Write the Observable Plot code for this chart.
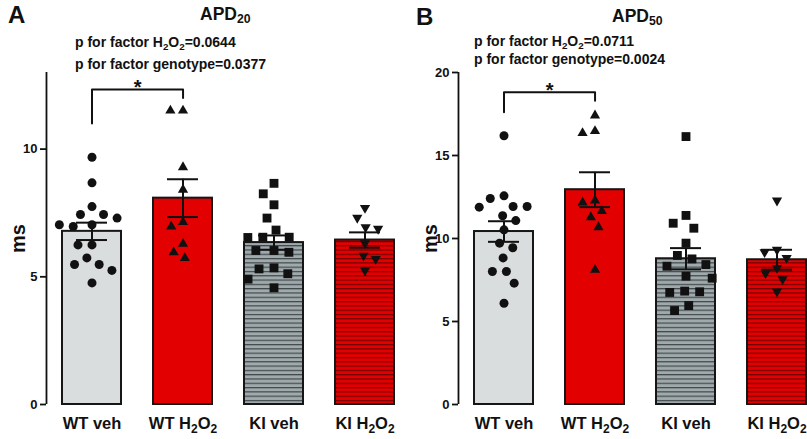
<!DOCTYPE html>
<html>
<head>
<meta charset="utf-8">
<script src="https://cdn.jsdelivr.net/npm/d3@7"></script>
<script src="https://cdn.jsdelivr.net/npm/@observablehq/plot@0.6"></script>
<style>
  html, body { margin: 0; padding: 0; background: #fff; }
  body { width: 807px; height: 439px; overflow: hidden; position: relative;
         font-family: "Liberation Sans", Arial, sans-serif; font-weight: bold; color: #111; }
  .panel { position: absolute; top: 0; width: 412px; height: 439px; }
  .lbl { position: absolute; line-height: 1; white-space: nowrap; }
  .s { font-size: 0.7em; position: relative; top: 0.28em; }
  svg text { font-weight: bold; }
  [aria-label="fx-axis tick label"] { font-size: 16.5px; }
  [aria-label="y-axis tick label"] { font-size: 13px; }
  [aria-label="y-axis label"] { font-size: 20px; }
  [aria-label^="y-axis"] { stroke-width: 1.8px; }
</style>
</head>
<body>
<div id="pA" class="panel" style="left:0px"></div>
<div id="pB" class="panel" style="left:412px"></div>

<div class="lbl" style="left:8px; top:3px; font-size:24px">A</div>
<div class="lbl" style="left:200px; top:6px; font-size:17.5px">APD<span class="s">20</span></div>
<div class="lbl" style="left:75px; top:35px; font-size:14px">p for factor H<span class="s">2</span>O<span class="s">2</span>=0.0644</div>
<div class="lbl" style="left:75px; top:56.5px; font-size:14px">p for factor genotype=0.0377</div>

<div class="lbl" style="left:416px; top:5px; font-size:24px">B</div>
<div class="lbl" style="left:612px; top:8px; font-size:17.5px">APD<span class="s">50</span></div>
<div class="lbl" style="left:474px; top:34.2px; font-size:14px">p for factor H<span class="s">2</span>O<span class="s">2</span>=0.0711</div>
<div class="lbl" style="left:474px; top:51.5px; font-size:14px">p for factor genotype=0.0024</div>

<script>
// ---------- data ----------
const groups = ["WT veh", "WT H2O2", "KI veh", "KI H2O2"];

// APD20 (ms): individual cells per group
const apd20WtVeh  = [9.68, 8.68, 7.75, 7.44, 7.44, 7.30, 7.04, 6.97, 7.04, 6.25, 6.25, 5.74, 5.48, 5.48, 5.25, 4.76];
const apd20WtH2o2 = [11.51, 11.51, 9.29, 8.41, 7.14, 6.97, 6.29, 5.96, 5.73];
const apd20KiVeh  = [8.66, 8.25, 7.82, 7.30, 6.83, 6.55, 6.55, 6.54, 6.03, 6.03, 5.96, 5.35, 5.31, 5.12, 4.91, 4.57];
const apd20KiH2o2 = [7.70, 7.31, 6.94, 6.88, 6.32, 5.83, 5.70, 5.25];
const apd20Mean = [6.78, 8.08, 6.34, 6.44];
const apd20Sem  = [0.34, 0.74, 0.28, 0.30];
const apd20Ticks = [0, 5, 10];
const apd20Max = 13;
const apd20Sig = {from: "WT veh", to: "WT H2O2", top: 12.33, leftFoot: 11.0, rightFoot: 12.0, label: "*"};

// APD50 (ms)
const apd50WtVeh  = [16.19, 12.57, 12.41, 11.93, 11.93, 11.89, 11.37, 11.08, 10.52, 9.72, 9.44, 8.83, 8.01, 8.01, 7.31, 6.10];
const apd50WtH2o2 = [17.41, 16.47, 16.35, 12.29, 12.17, 11.65, 11.28, 10.68, 8.11];
const apd50KiVeh  = [16.14, 11.39, 10.92, 10.62, 9.72, 8.98, 8.77, 8.43, 8.33, 7.73, 7.61, 6.83, 6.79, 6.75, 5.96, 5.66];
const apd50KiH2o2 = [12.29, 9.32, 9.18, 8.83, 8.23, 7.91, 7.55, 6.81];
const apd50Mean = [10.42, 12.94, 8.78, 8.72];
const apd50Sem  = [0.62, 1.05, 0.64, 0.60];
const apd50Ticks = [0, 5, 10, 15, 20];
const apd50Max = 20;
const apd50Sig = {from: "WT veh", to: "WT H2O2", top: 18.81, leftFoot: 17.6, rightFoot: 18.3, label: "*"};

// ---------- drawing ----------
const W = 412, ML = 46, MR = 2;
const padInner = 0.352, padOuter = 0.176;
const step = (W - ML - MR) / (groups.length - padInner + 2 * padOuter);
const axisGap = padOuter * step; // gap between y axis and first bar
const xDomain = [-0.5, 0.5];
const span = (xDomain[1] - xDomain[0]) / (1 - padInner); // distance between neighbouring band centres in x units

function panel(values, means, sems, yMax, yTicks, sig, prefix) {
  const pts = groups.flatMap((g, i) => values[i].map(v => ({group: g, value: v})));
  const summary = groups.map((g, i) => ({group: g, mean: means[i], sem: sems[i]}));
  const fills = ["#d9dddd", "#e30000", `url(#${prefix}-gray)`, `url(#${prefix}-red)`];
  const symbols = ["circle", "triangle", "square", "triangle"];
  const rotates = [0, 0, 0, 180];
  const radii = [4.5, 3.8, 5.0, 3.8];
  const marks = [];
  // y axis line, drawn once next to the first facet on the plot margin
  marks.push(Plot.ruleX([{y1: 0, y2: yMax}], {fx: () => groups[0], x: () => xDomain[0], y1: "y1", y2: "y2", dx: -axisGap, stroke: "#111", strokeWidth: 1.8}));
  groups.forEach((g, i) => {
    marks.push(Plot.barY(summary.filter(d => d.group === g), {
      fx: "group", y: "mean", fill: fills[i], stroke: "#161616", strokeWidth: 2
    }));
  });
  groups.forEach((g, i) => {
    marks.push(Plot.dot(pts.filter(d => d.group === g), Plot.dodgeX(
      {anchor: "middle", padding: 5},
      {fx: "group", y: "value", r: radii[i], symbol: symbols[i], rotate: rotates[i], fill: "#111", stroke: "none"}
    )));
  });
  marks.push(Plot.ruleX(summary, {fx: "group", x: () => 0, y1: d => d.mean - d.sem, y2: d => d.mean + d.sem, stroke: "#111", strokeWidth: 2}));
  marks.push(Plot.tickY(summary, {fx: "group", y: d => d.mean + d.sem, insetLeft: 14, insetRight: 14, stroke: "#111", strokeWidth: 2}));
  marks.push(Plot.tickY(summary, {fx: "group", y: d => d.mean - d.sem, insetLeft: 14, insetRight: 14, stroke: "#111", strokeWidth: 2}));
  const bracket = [
    {x: 0, y: sig.leftFoot}, {x: 0, y: sig.top}, {x: span, y: sig.top}, {x: span, y: sig.rightFoot}
  ];
  marks.push(Plot.line(bracket, {fx: () => sig.from, x: "x", y: "y", stroke: "#111", strokeWidth: 2}));
  marks.push(Plot.text([sig], {fx: () => sig.from, x: () => span / 2, y: "top", text: "label", fontSize: 20, dy: -2}));

  const svg = Plot.plot({
    width: W, height: 439,
    marginTop: 72, marginBottom: 35, marginLeft: ML, marginRight: MR,
    style: {fontFamily: "'Liberation Sans', Arial, sans-serif", fontSize: "13px", fontWeight: "bold", color: "#111", background: "transparent"},
    fx: {domain: groups, paddingInner: padInner, paddingOuter: padOuter, label: null, tickSize: 0, tickPadding: 13},
    x: {domain: xDomain, axis: null},
    y: {domain: [0, yMax], ticks: yTicks, tickSize: 6, tickPadding: 3, label: "ms", labelArrow: "none", labelAnchor: "center", labelOffset: 36},
    marks
  });

  // y axis sits on the plot margin, not on the first facet's edge
  d3.select(svg).selectAll('[aria-label^="y-axis"]').each(function() {
    const tr = this.getAttribute("transform") || "";
    this.setAttribute("transform", `translate(${-axisGap},0) ${tr}`);
  });

  // stripe patterns for the KI bars
  const defs = d3.select(svg).insert("defs", ":first-child");
  const mk = (id, bg, line) => {
    const p = defs.append("pattern").attr("id", id).attr("patternUnits", "userSpaceOnUse")
      .attr("width", 10).attr("height", 4.3);
    p.append("rect").attr("width", 10).attr("height", 4.3).attr("fill", bg);
    p.append("rect").attr("width", 10).attr("height", 1.2).attr("fill", line);
  };
  mk(`${prefix}-gray`, "#a0aaad", "#3f474a");
  mk(`${prefix}-red`, "#e40000", "#6e0000");

  // subscripts in H2O2 tick labels
  d3.select(svg).selectAll('[aria-label="fx-axis tick label"] text').each(function() {
    const t = this.textContent;
    if (!t.includes("H2O2")) return;
    const sel = d3.select(this);
    sel.text(null);
    const pre = t.slice(0, t.indexOf("H2O2"));
    sel.append("tspan").text(pre + "H");
    sel.append("tspan").attr("dy", 4).attr("font-size", "12px").text("2");
    sel.append("tspan").attr("dy", -4).text("O");
    sel.append("tspan").attr("dy", 4).attr("font-size", "12px").text("2");
  });
  return svg;
}

document.getElementById("pA").append(panel([apd20WtVeh, apd20WtH2o2, apd20KiVeh, apd20KiH2o2], apd20Mean, apd20Sem, apd20Max, apd20Ticks, apd20Sig, "a"));
document.getElementById("pB").append(panel([apd50WtVeh, apd50WtH2o2, apd50KiVeh, apd50KiH2o2], apd50Mean, apd50Sem, apd50Max, apd50Ticks, apd50Sig, "b"));
</script>
</body>
</html>
